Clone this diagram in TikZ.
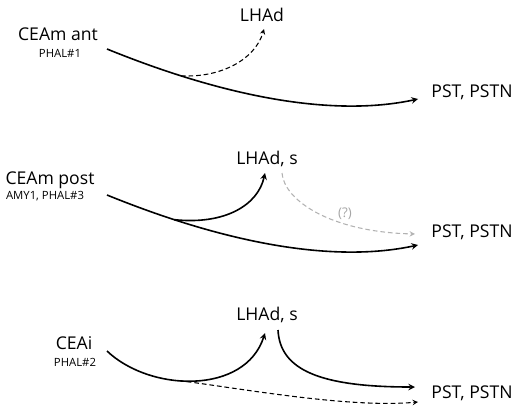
\documentclass[tikz,border=0pt]{standalone}
\usepackage{fontspec}
\setmainfont{Open Sans}

\begin{document}
\begin{tikzpicture}[x=0.75pt, y=-0.75pt, >=stealth, line width=1.2pt]
  \tikzset{
    big/.style={inner sep=0pt, font=\fontsize{13.2}{15}\selectfont},
    small/.style={inner sep=0pt, font=\fontsize{8.5}{10}\selectfont},
    dsh/.style={dashed, line width=0.8pt, dash pattern=on 3.5pt off 2.2pt},
    qry/.style={dsh, gray!60}
  }
  \useasboundingbox (0,0) rectangle (517,414);

  % Bloque 1: CEAm ant
  \node[big] (ceamant) at (58,34) {CEAm ant};
  \node[small] (phal1) at (60,53) {PHAL\#1};
  \node[big] (lhad1) at (262,15) {LHAd};
  \node[big] (pst1) at (472,92) {PST, PSTN};
  \coordinate (s1) at (107,49);
  \coordinate (e1) at (418,99);
  \coordinate (t1) at (264,29);
  \draw[->] (s1) .. controls (220,95) and (330,118) .. coordinate[pos=0.22] (b1) (e1);
  \draw[->, dsh] (b1) .. controls (220,78) and (255,60) .. (t1);

  % Bloque 2: CEAm post
  \node[big] (ceampost) at (50,180) {CEAm post};
  \node[small] (amy) at (45,196) {AMY1, PHAL\#3};
  \node[big] (lhad2) at (267,159) {LHAd, s};
  \node[big] (pst2) at (472,232) {PST, PSTN};
  \coordinate (s2) at (107,195);
  \coordinate (e2) at (418,245);
  \coordinate (t2) at (265,173);
  \coordinate (g2) at (282,173);
  \coordinate (h2) at (415,234);
  \draw[->] (s2) .. controls (220,241) and (330,264) .. coordinate[pos=0.2] (b2) (e2);
  \draw[->] (b2) .. controls (225,225) and (258,205) .. (t2);
  \draw[->, qry] (g2) .. controls (284,200) and (330,232) .. (h2);
  \node[font=\fontsize{10}{11}\selectfont, text=gray!70, inner sep=0pt] (qm) at (345,214) {(?)};

  % Bloque 3: CEAi
  \node[big] (lhad3) at (267,315) {LHAd, s};
  \node[big] (ceai) at (74,343) {CEAi};
  \node[small] (phal2) at (75,362) {PHAL\#2};
  \node[big] (pst3) at (472,393) {PST, PSTN};
  \coordinate (s3) at (107,351);
  \coordinate (t3) at (265,333);
  \coordinate (u3) at (278,330);
  \coordinate (v3) at (415,387);
  \coordinate (w3) at (418,402);
  \draw[->] (s3) .. controls (150,392) and (245,395) .. coordinate[pos=0.42] (b3) (t3);
  \draw[->] (u3) .. controls (280,370) and (320,387) .. (v3);
  \draw[->, dsh] (b3) .. controls (250,390) and (350,408) .. (w3);
\end{tikzpicture}
\end{document}
